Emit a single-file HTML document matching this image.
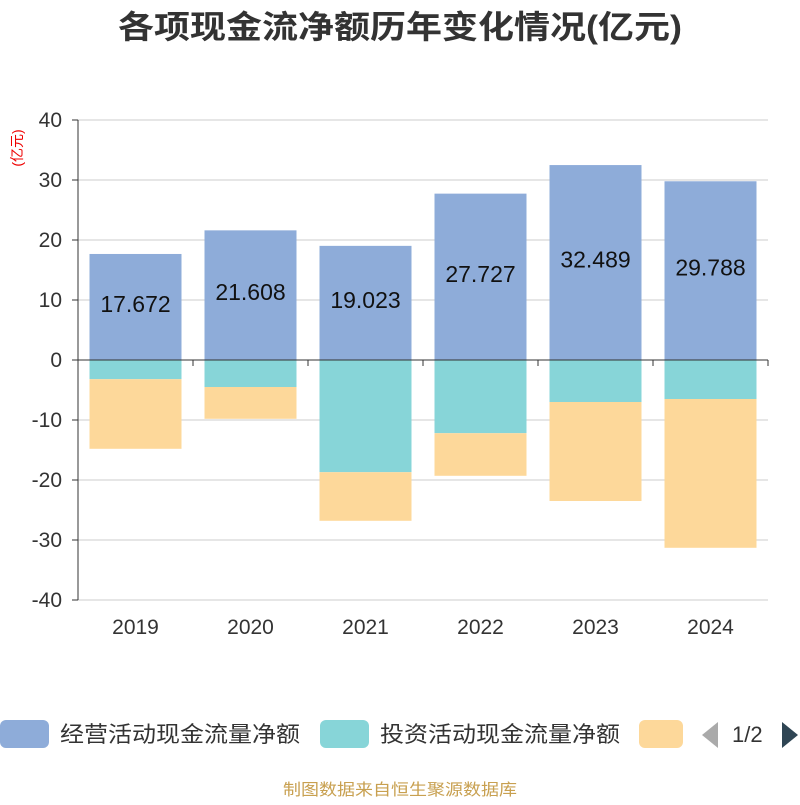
<!DOCTYPE html>
<html><head><meta charset="utf-8"><style>
body{margin:0;background:#fff;font-family:"Liberation Sans","Noto Sans CJK SC",sans-serif}
</style></head><body>
<svg id="c" width="800" height="800" xmlns="http://www.w3.org/2000/svg" font-family="'Liberation Sans','Noto Sans CJK SC',sans-serif">
<text x="400" y="38" text-anchor="middle" font-size="32" font-weight="bold" fill="#333" textLength="564" lengthAdjust="spacingAndGlyphs">各项现金流净额历年变化情况(亿元)</text>
<text x="22" y="148" transform="rotate(-90 22 148)" text-anchor="middle" font-size="14" fill="#e00">(亿元)</text>
<g id="grid"></g><g id="bars"></g><g id="axes"></g>
<g>
<rect x="0" y="720" width="49" height="28" rx="6" fill="#8eacd9"/>
<text x="60" y="742" font-size="22" fill="#333" textLength="240" lengthAdjust="spacingAndGlyphs">经营活动现金流量净额</text>
<rect x="320" y="720" width="49" height="28" rx="6" fill="#87d5d8"/>
<text x="380" y="742" font-size="22" fill="#333" textLength="240" lengthAdjust="spacingAndGlyphs">投资活动现金流量净额</text>
<rect x="639" y="720" width="44" height="28" rx="6" fill="#fdd89a"/>
<path d="M718 722 L702 735 L718 748 Z" fill="#aaa"/>
<text x="732" y="742" font-size="22" fill="#333">1/2</text>
<path d="M782 722 L798 735 L782 748 Z" fill="#2f4554"/>
</g>
<text x="400" y="795" text-anchor="middle" font-size="16" fill="#c8a050" textLength="234" lengthAdjust="spacingAndGlyphs">制图数据来自恒生聚源数据库</text>
</svg>
<script>
const categories=["2019","2020","2021","2022","2023","2024"];
const operating=[17.672,21.608,19.023,27.727,32.489,29.788];
const investing=[-3.2,-4.5,-18.7,-12.2,-7.0,-6.5];
const financing=[-11.6,-5.3,-8.1,-7.1,-16.5,-24.8];
const yTicks=[40,30,20,10,0,-10,-20,-30,-40];
const NS="http://www.w3.org/2000/svg";
const x0=78,x1=768,band=(x1-x0)/categories.length,bw=92;
const y=v=>360-v*6;
function mk(p,t,a){const e=document.createElementNS(NS,t);for(const k in a)e.setAttribute(k,a[k]);p.appendChild(e);return e;}
const grid=document.getElementById('grid'),bars=document.getElementById('bars'),axes=document.getElementById('axes');
yTicks.forEach(t=>{
 const l=mk(grid,'line',{x1:x0,x2:x1,y1:y(t),y2:y(t),stroke:'#ccc','stroke-width':1});
 
 
 const tx=mk(axes,'text',{x:62,y:y(t)+7,'text-anchor':'end','font-size':21,fill:'#333'});
 tx.textContent=t;
 
 
 mk(axes,'line',{x1:x0-6,x2:x0,y1:y(t),y2:y(t),stroke:'#333'});
});
mk(axes,'line',{x1:x0,x2:x0,y1:y(40),y2:y(-40),stroke:'#333'});
mk(axes,'line',{x1:x0,x2:x1,y1:y(0),y2:y(0),stroke:'#333'});
categories.forEach((c,i)=>{
 const bx=x0+band*i+(band-bw)/2,cx=x0+band*i+band/2;
 mk(axes,'line',{x1:x0+band*(i+1),x2:x0+band*(i+1),y1:y(0),y2:y(0)+6,stroke:'#333'});
 const r1=mk(bars,'rect',{x:bx,y:y(operating[i]),width:bw,height:y(0)-y(operating[i]),fill:'#8eacd9'});
 
 
 const r2=mk(bars,'rect',{x:bx,y:y(0),width:bw,height:y(investing[i])-y(0),fill:'#87d5d8'});
 
 
 const r3=mk(bars,'rect',{x:bx,y:y(investing[i]),width:bw,height:y(investing[i]+financing[i])-y(investing[i]),fill:'#fdd89a'});
 
 
 const v=mk(bars,'text',{x:cx,y:y(operating[i]/2)+5,'text-anchor':'middle','font-size':23,fill:'#111'});
 v.textContent=operating[i].toFixed(3);
 
 
 const xl=mk(axes,'text',{x:cx,y:634,'text-anchor':'middle','font-size':21,fill:'#333'});
 xl.textContent=c;
 
 
});
</script>
</body></html>
